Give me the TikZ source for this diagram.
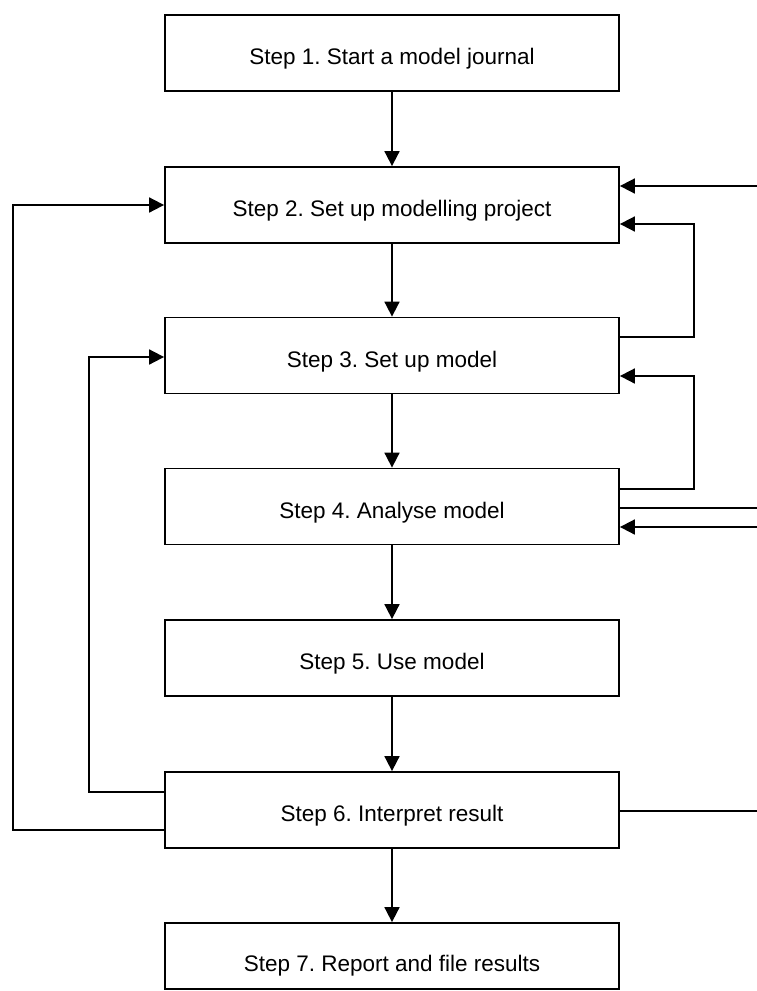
\documentclass[tikz,border=0pt]{standalone}
\usepackage{fontspec}
\setmainfont{Liberation Sans}
\usetikzlibrary{arrows.meta}
\frenchspacing
\begin{document}
\begin{tikzpicture}[x=1pt,y=-1pt,
  stepfont/.style={font=\fontsize{22.5}{25}\selectfont},
  stepbox/.style={draw,line width=1.8pt,minimum width=454pt,minimum height=76pt,inner sep=0pt,stepfont,text height=23pt,text depth=0pt},
  conn/.style={line width=1.8pt},
  arr/.style={conn,-{Triangle[length=15pt,width=15pt]}}]
\useasboundingbox (0,0) rectangle (757,991);
\node[stepbox] (b1) at (392,53) {Step 1. Start a model journal};
\node[stepbox] (b2) at (392,205) {Step 2. Set up modelling project};
\node[stepbox] (b3) at (392,355.5) {Step 3. Set up model};
\node[stepbox] (b4) at (392,506.5) {Step 4. Analyse model};
\node[stepbox] (b5) at (392,658) {Step 5. Use model};
\node[stepbox] (b6) at (392,810) {Step 6. Interpret result};
\node[stepbox,minimum height=66pt,text height=31pt] (b7) at (392,956) {Step 7. Report and file results};
% vertical flow
\draw[arr] (b1) -- (b2);
\draw[arr] (b2) -- (b3);
\draw[arr] (b3) -- (b4);
\draw[arr] (b4) -- (b5);
\draw[arr] (b5) -- (b6);
\draw[arr] (b6) -- (b7);
% right side
\coordinate (e1) at (757,186);
\coordinate (e2) at (757,508);
\coordinate (e3) at (757,527);
\coordinate (e4) at (757,811);
\coordinate (r1) at (694,337);
\coordinate (r2) at (694,224);
\coordinate (r3) at (694,489);
\coordinate (r4) at (694,376);
\draw[arr] (e1) -- (e1 -| b2.east);
\draw[arr] (r1 -| b3.east) -- (r1) -- (r2) -- (r2 -| b2.east);
\draw[arr] (r3 -| b4.east) -- (r3) -- (r4) -- (r4 -| b3.east);
\draw[conn] (e2 -| b4.east) -- (e2);
\draw[arr] (e3) -- (e3 -| b4.east);
\draw[conn] (e4 -| b6.east) -- (e4);
% left side
\coordinate (l1) at (13,830);
\coordinate (l2) at (13,205);
\coordinate (l3) at (89,792);
\coordinate (l4) at (89,357);
\draw[arr] (l1 -| b6.west) -- (l1) -- (l2) -- (l2 -| b2.west);
\draw[arr] (l3 -| b6.west) -- (l3) -- (l4) -- (l4 -| b3.west);
\end{tikzpicture}
\end{document}
